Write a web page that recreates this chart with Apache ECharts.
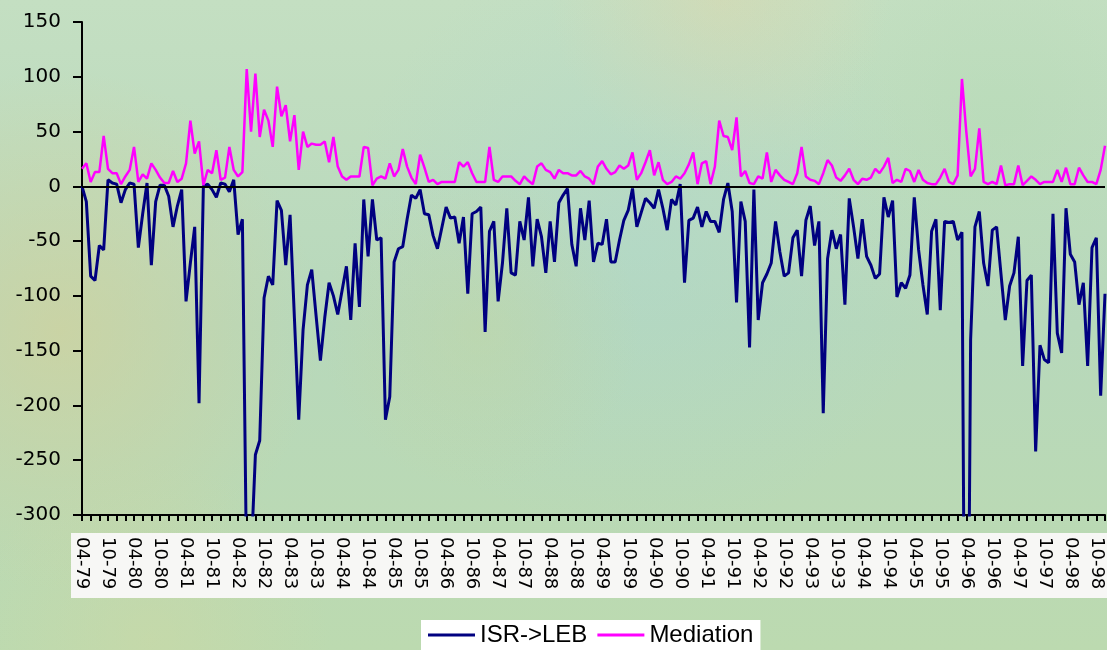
<!DOCTYPE html>
<html>
<head>
<meta charset="utf-8">
<script src="https://cdn.jsdelivr.net/npm/echarts@6/dist/echarts.min.js"></script>
<style>
  html, body { margin: 0; padding: 0; }
  #chart { width: 1107px; height: 650px; }
</style>
</head>
<body>
<div id="chart"></div>
<script>
// monthly values, 04-79 .. 12-98
const isrLeb = [
  0, -14, -82, -86, -54, -58, 6, 3, 2, -15, -3, 3, 2, -56, -25, 3, -72, -14, 1, 1,
  -9, -37, -18, -3, -105, -70, -37, -198, 0, 2, -3, -10, 3, 2, -5, 6, -44, -30, -360, -340,
  -245, -232, -102, -82, -90, -13, -22, -72, -26, -120, -213, -131, -90, -76, -118, -159, -120, -88, -100, -117,
  -95, -73, -122, -52, -110, -12, -64, -12, -49, -47, -213, -192, -69, -57, -55, -30, -8, -11, -3, -25,
  -26, -45, -57, -38, -19, -29, -28, -52, -28, -98, -25, -23, -19, -133, -41, -32, -105, -70, -20, -79,
  -81, -32, -49, -10, -73, -30, -46, -79, -32, -69, -15, -8, -2, -53, -73, -20, -49, -13, -69, -52,
  -53, -30, -69, -69, -49, -31, -22, -2, -37, -24, -11, -15, -20, -3, -20, -40, -12, -17, 2, -88,
  -31, -29, -19, -37, -23, -32, -32, -42, -12, 3, -23, -106, -14, -32, -147, -3, -122, -88, -80, -70,
  -32, -60, -82, -79, -47, -40, -82, -31, -18, -54, -32, -207, -66, -40, -57, -44, -108, -11, -37, -66,
  -30, -64, -72, -84, -80, -10, -28, -13, -101, -88, -93, -81, -10, -58, -90, -117, -41, -30, -113, -32,
  -33, -32, -49, -42, -700, -140, -37, -23, -70, -91, -40, -37, -80, -122, -91, -79, -46, -164, -86, -81,
  -242, -145, -158, -161, -25, -134, -152, -20, -62, -69, -108, -88, -164, -56, -47, -191, -98
]

const mediation = [
  16, 21, 4, 13, 13, 46, 16, 12, 12, 2, 9, 15, 36, 4, 11, 7, 21, 15, 8, 3,
  3, 14, 4, 7, 21, 60, 30, 41, 1, 15, 12, 33, 6, 8, 36, 15, 9, 13, 107, 50,
  103, 45, 70, 60, 36, 91, 64, 74, 41, 65, 15, 50, 36, 39, 38, 38, 41, 22, 45, 18,
  9, 6, 9, 9, 9, 36, 35, 1, 7, 9, 7, 21, 9, 15, 34, 18, 8, 2, 29, 17,
  4, 6, 2, 4, 4, 4, 4, 22, 18, 22, 12, 4, 4, 4, 36, 6, 4, 9, 9, 9,
  5, 2, 9, 5, 2, 18, 21, 15, 13, 7, 15, 12, 12, 10, 10, 14, 9, 7, 2, 18,
  23, 16, 11, 13, 19, 16, 19, 31, 6, 12, 22, 33, 10, 22, 6, 2, 4, 9, 7, 12,
  20, 31, 2, 21, 23, 2, 18, 60, 46, 45, 33, 63, 9, 14, 3, 2, 9, 7, 31, 4,
  15, 10, 6, 4, 2, 12, 36, 9, 6, 5, 2, 12, 24, 19, 8, 5, 10, 16, 6, 2,
  7, 6, 8, 16, 12, 18, 26, 3, 6, 4, 16, 14, 4, 15, 6, 3, 2, 2, 8, 16,
  4, 2, 10, 98, 50, 9, 16, 53, 4, 2, 4, 2, 19, 1, 2, 2, 19, 1, 5, 9,
  6, 2, 4, 4, 4, 15, 4, 17, 2, 2, 17, 10, 4, 4, 2, 15, 37
]

const seriesNames = ['ISR->LEB', 'Mediation']
const yTicks = { min: -300, max: 150, step: 50 }

const startYear = 1979
const startMonth = 4
const months = []
for (let i = 0; i < isrLeb.length; i++) {
  const m = (startMonth - 1 + i) % 12 + 1
  const y = startYear + Math.floor((startMonth - 1 + i) / 12)
  months.push(String(m).padStart(2, '0') + '-' + String(y).slice(2))
}

const chart = echarts.init(document.getElementById('chart'))

const blob = (cx, cy, r, color) => ({
  type: 'circle',
  z: -10,
  silent: true,
  shape: { cx, cy, r },
  style: {
    fill: {
      type: 'radial', x: 0.5, y: 0.5, r: 0.5,
      colorStops: [
        { offset: 0, color: color },
        { offset: 1, color: color.replace(/[\d.]+\)$/, '0)') },
      ],
    },
  },
})

chart.setOption({
  backgroundColor: {
    type: 'linear', x: 0, y: 0, x2: 0, y2: 1,
    colorStops: [
      { offset: 0, color: '#c4dfc2' },
      { offset: 0.5, color: '#b7d8bb' },
      { offset: 1, color: '#bcdab0' },
    ],
  },
  animation: false,
  graphic: {
    elements: [
      blob(60, 330, 260, 'rgba(214,208,150,0.6)'),
      blob(720, 0, 170, 'rgba(222,216,172,0.55)'),
      blob(640, 240, 300, 'rgba(168,214,212,0.35)'),
      blob(480, 330, 160, 'rgba(200,212,150,0.35)'),
      blob(150, 640, 180, 'rgba(210,215,160,0.4)'),
      blob(1000, 120, 200, 'rgba(178,218,178,0.4)'),
      {
        type: 'rect',
        z: -5,
        silent: true,
        shape: { x: 71, y: 533, width: 1036, height: 65 },
        style: { fill: '#f7f7f5' },
      },
    ],
  },
  grid: {
    left: 82,
    right: 2,
    top: 22,
    bottom: 135,
    outerBoundsMode: 'none',
  },
  legend: {
    data: seriesNames,
    left: 421,
    top: 620,
    icon: 'rect',
    itemWidth: 47,
    itemHeight: 3,
    itemGap: 10,
    padding: [3, 7, 8, 7],
    backgroundColor: '#ffffff',
    textStyle: { fontFamily: 'Liberation Sans', fontSize: 24, color: '#000' },
  },
  xAxis: {
    type: 'category',
    boundaryGap: false,
    data: months,
    axisLine: { onZero: false, lineStyle: { color: '#000', width: 2 } },
    axisTick: { interval: 1, length: 6, lineStyle: { color: '#000', width: 2 } },
    axisLabel: {
      interval: 5,
      rotate: -90,
      margin: 22,
      fontFamily: 'DejaVu Sans',
      fontSize: 18,
      color: '#000',
    },
    splitLine: { show: false },
  },
  yAxis: {
    type: 'value',
    min: yTicks.min,
    max: yTicks.max,
    interval: yTicks.step,
    axisLine: { show: true, lineStyle: { color: '#000', width: 2 } },
    axisTick: { show: true, length: 9, lineStyle: { color: '#000', width: 2 } },
    axisLabel: { fontFamily: 'DejaVu Sans', fontSize: 20, color: '#000', margin: 21 },
    splitLine: { show: false },
  },
  series: [
    {
      name: seriesNames[0],
      type: 'line',
      data: isrLeb,
      showSymbol: false,
      color: '#000080',
      lineStyle: { color: '#000080', width: 3 },
      markLine: {
        silent: true,
        symbol: 'none',
        label: { show: false },
        lineStyle: { color: '#000', width: 2, type: 'solid' },
        data: [{ yAxis: 0 }],
      },
    },
    {
      name: seriesNames[1],
      type: 'line',
      data: mediation,
      showSymbol: false,
      color: '#ff00ff',
      lineStyle: { color: '#ff00ff', width: 2.5 },
    },
  ],
})
</script>
</body>
</html>
